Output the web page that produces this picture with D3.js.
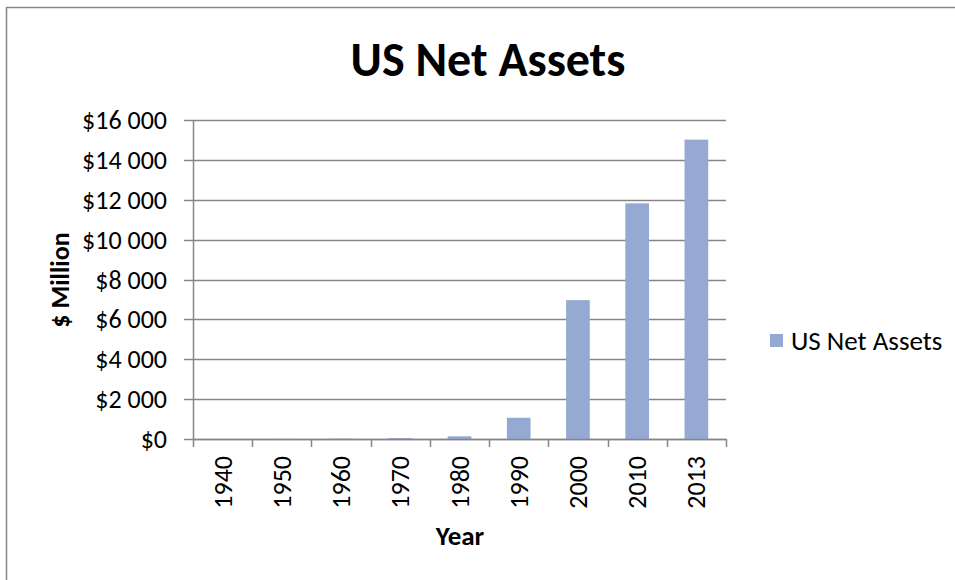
<!DOCTYPE html>
<html>
<head>
<meta charset="utf-8">
<script src="https://cdn.jsdelivr.net/npm/d3@7"></script>
<style>
  body { margin: 0; background: #fff; }
  text { font-family: Carlito, Lato, "Open Sans", sans-serif; fill: #000; }
</style>
</head>
<body>
<svg id="chart" width="955" height="580"></svg>
<script>
// data
var years = ["1940", "1950", "1960", "1970", "1980", "1990", "2000", "2010", "2013"]
var netAssets = [0.45, 2.5, 17, 48, 135, 1065, 6965, 11821, 15017]
var yTicks = [0, 2000, 4000, 6000, 8000, 10000, 12000, 14000, 16000]

var svg = d3.select("#chart")

// outer chart border (right/bottom fall outside the frame)
svg.append("rect")
    .attr("x", 6.5).attr("y", 7.5)
    .attr("width", 1000).attr("height", 1000)
    .attr("fill", "none")
    .attr("stroke", "#868686")
    .attr("stroke-width", 1.5)

var plotLeft = 193, plotRight = 726, plotTop = 120, plotBottom = 439

var x = d3.scaleBand()
    .domain(years)
    .range([plotLeft, plotRight])

var y = d3.scaleLinear()
    .domain([0, 16000])
    .range([plotBottom, plotTop])

var fmt = function(d) {
    return "$" + d3.format(",")(d).replace(/,/g, " ")
}

// gridlines
svg.append("g")
    .selectAll("line")
    .data(yTicks)
    .enter()
    .append("line")
    .attr("x1", plotLeft - 9)
    .attr("x2", plotRight)
    .attr("y1", function(d) { return Math.round(y(d)) + 0.5 })
    .attr("y2", function(d) { return Math.round(y(d)) + 0.5 })
    .attr("stroke", "#868686")
    .attr("stroke-width", 1.5)

// bars, gap width 150%
var barW = x.bandwidth() / 2.5
svg.append("g")
    .selectAll("rect")
    .data(netAssets)
    .enter()
    .append("rect")
    .attr("x", function(d, i) { return x(years[i]) + (x.bandwidth() - barW) / 2 })
    .attr("y", function(d) { return y(d) })
    .attr("width", barW)
    .attr("height", function(d) { return plotBottom - y(d) })
    .attr("fill", "#95a9d2")

// y axis line
svg.append("line")
    .attr("x1", plotLeft + 0.5).attr("x2", plotLeft + 0.5)
    .attr("y1", plotTop).attr("y2", plotBottom)
    .attr("stroke", "#868686").attr("stroke-width", 1.5)

// y tick labels
svg.append("g")
    .selectAll("text")
    .data(yTicks)
    .enter()
    .append("text")
    .attr("x", plotLeft - 26)
    .attr("y", function(d) { return y(d) })
    .attr("dy", "0.35em")
    .attr("text-anchor", "end")
    .style("font-size", "26px")
    .text(fmt)

// x axis line and ticks
svg.append("line")
    .attr("x1", plotLeft).attr("x2", plotRight + 0.5)
    .attr("y1", plotBottom + 0.5).attr("y2", plotBottom + 0.5)
    .attr("stroke", "#868686").attr("stroke-width", 1.5)

var tickPos = years.map(function(d) { return x(d) }).concat([plotRight])
svg.append("g")
    .selectAll("line")
    .data(tickPos)
    .enter()
    .append("line")
    .attr("x1", function(d) { return Math.round(d) + 0.5 })
    .attr("x2", function(d) { return Math.round(d) + 0.5 })
    .attr("y1", plotBottom)
    .attr("y2", plotBottom + 8)
    .attr("stroke", "#868686").attr("stroke-width", 1.5)

// x tick labels, rotated
svg.append("g")
    .selectAll("text")
    .data(years)
    .enter()
    .append("text")
    .attr("transform", function(d) {
        return "translate(" + (x(d) + x.bandwidth() / 2) + "," + (plotBottom + 17) + ") rotate(-90)"
    })
    .attr("dy", "0.35em")
    .attr("text-anchor", "end")
    .style("font-size", "26px")
    .text(function(d) { return d })

// title
svg.append("text")
    .attr("x", 488).attr("y", 76)
    .attr("text-anchor", "middle")
    .style("font-size", "48px")
    .style("font-weight", "bold")
    .text("US Net Assets")

// axis titles
svg.append("text")
    .attr("transform", "translate(60,280) rotate(-90)")
    .attr("dy", "0.35em")
    .attr("text-anchor", "middle")
    .style("font-size", "26px")
    .style("font-weight", "bold")
    .text("$ Million")

svg.append("text")
    .attr("x", 460).attr("y", 545)
    .attr("text-anchor", "middle")
    .style("font-size", "27px")
    .style("font-weight", "bold")
    .text("Year")

// legend
var legend = svg.append("g").attr("transform", "translate(770,334)")
legend.append("rect")
    .attr("width", 13).attr("height", 13)
    .attr("fill", "#95a9d2")
legend.append("text")
    .attr("x", 21).attr("y", 7)
    .attr("dy", "0.35em")
    .style("font-size", "27px")
    .text("US Net Assets")
</script>
</body>
</html>
